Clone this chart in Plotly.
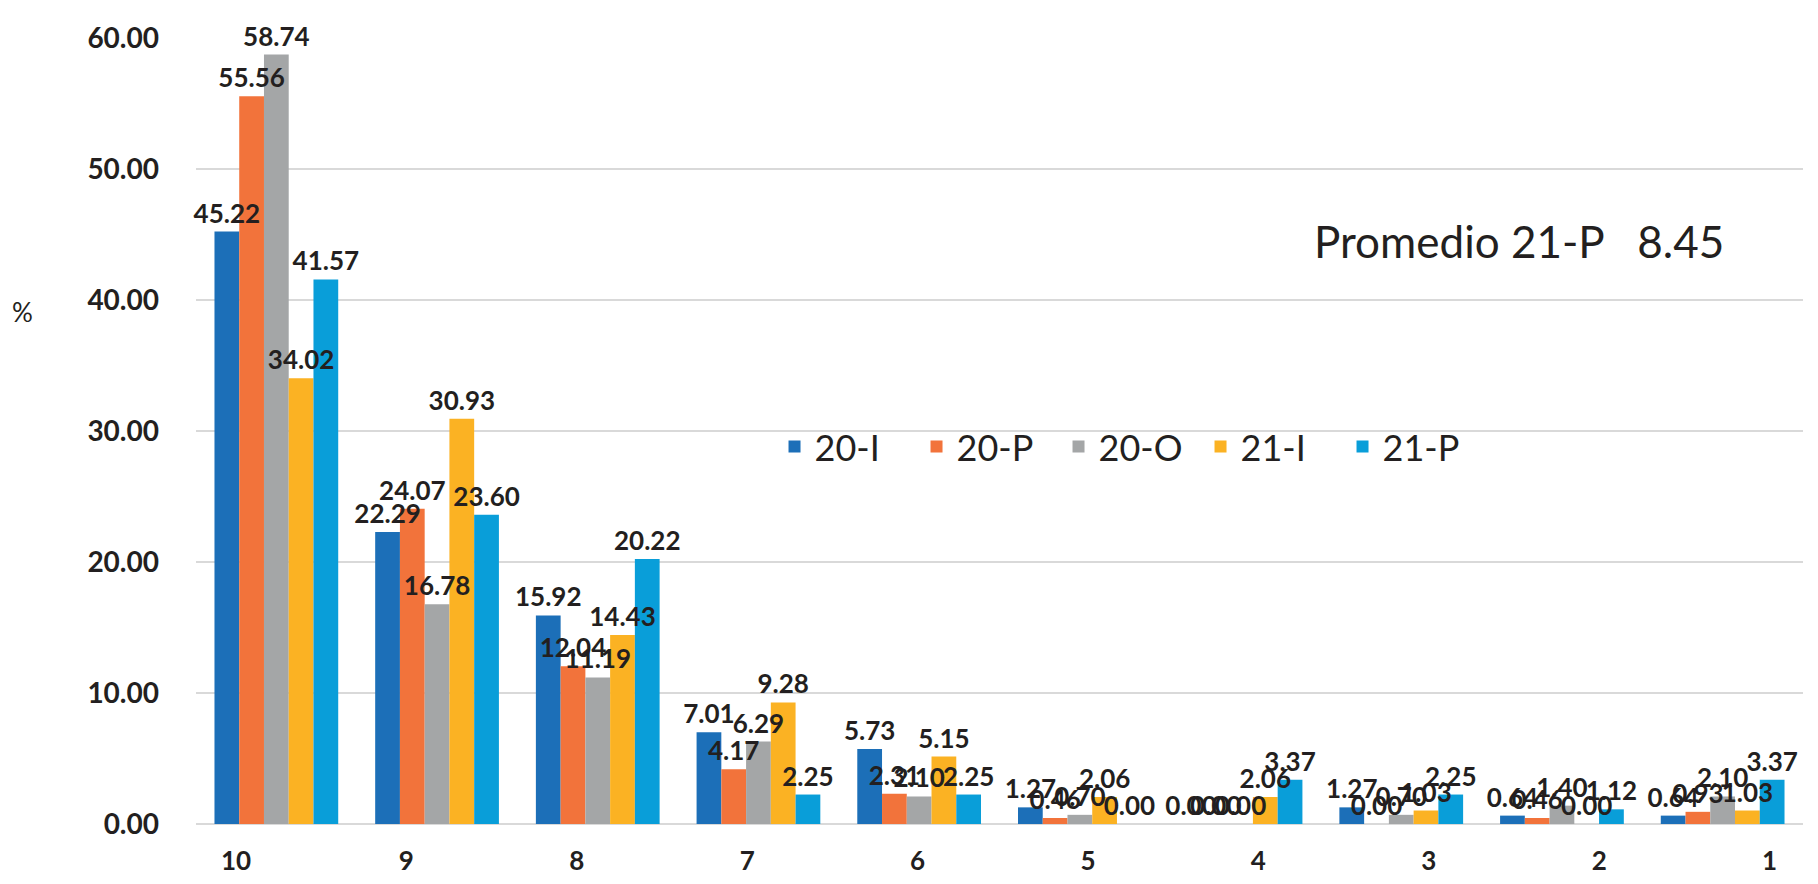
import plotly.graph_objects as go

categorias = ["10", "9", "8", "7", "6", "5", "4", "3", "2", "1"]

s20_I = [45.22, 22.29, 15.92, 7.01, 5.73, 1.27, 0.00, 1.27, 0.64, 0.64]
s20_P = [55.56, 24.07, 12.04, 4.17, 2.31, 0.46, 0.00, 0.00, 0.46, 0.93]
s20_O = [58.74, 16.78, 11.19, 6.29, 2.10, 0.70, 0.00, 0.70, 1.40, 2.10]
s21_I = [34.02, 30.93, 14.43, 9.28, 5.15, 2.06, 2.06, 1.03, 0.00, 1.03]
s21_P = [41.57, 23.60, 20.22, 2.25, 2.25, 0.00, 3.37, 2.25, 1.12, 3.37]

series = [
    ("20-I", s20_I, "#1c6fb8"),
    ("20-P", s20_P, "#f2733b"),
    ("20-O", s20_O, "#a4a6a7"),
    ("21-I", s21_I, "#fbb223"),
    ("21-P", s21_P, "#099ed9"),
]

promedio = "Promedio 21-P   8.45"

fig = go.Figure()
for nombre, vals, color in series:
    fig.add_trace(go.Bar(
        name=nombre, x=categorias, y=vals, offsetgroup=nombre,
        marker=dict(color=color, line=dict(width=0)),
    ))

# etiquetas en barras transparentes encima, para que ninguna barra las tape
for nombre, vals, color in series:
    fig.add_trace(go.Bar(
        x=categorias, y=vals, offsetgroup=nombre, showlegend=False,
        marker=dict(color="rgba(0,0,0,0)", line=dict(width=0)),
        text=[f"{v:.2f}" for v in vals],
        textposition="outside", constraintext="none",
        textfont=dict(family="Lato", size=26, color="#231f20", weight="bold"),
        cliponaxis=False, hoverinfo="skip",
    ))

# eje x con las etiquetas algo desplazadas (perspectiva 3D del original)
fig.add_trace(go.Scatter(
    x=categorias, y=[0] * len(categorias), xaxis="x2", mode="markers",
    marker=dict(opacity=0), showlegend=False, hoverinfo="skip",
))

paso = 170.4
ancho = 1607
r0 = -(228 - 188) / paso

fig.update_layout(
    width=1818, height=884,
    paper_bgcolor="white", plot_bgcolor="white",
    margin=dict(l=188, r=23, t=30, b=68),
    barmode="group", bargap=0.23, bargroupgap=0,
    legend=dict(
        orientation="h", x=0.36, y=0.48, xanchor="left", yanchor="middle",
        font=dict(family="Lato", size=36, color="#231f20"),
        bgcolor="rgba(0,0,0,0)", entrywidth=97,
    ),
    xaxis=dict(
        type="category", showgrid=False, zeroline=False, showline=False,
        ticks="", showticklabels=False,
    ),
    xaxis2=dict(
        type="category", overlaying="x", side="bottom",
        range=[r0, r0 + ancho / paso],
        showgrid=False, zeroline=False, showline=False, ticks="",
        ticklabelstandoff=19,
        tickfont=dict(family="Lato", size=26, color="#231f20", weight="bold"),
    ),
    yaxis=dict(
        range=[0, 60], dtick=10, tickformat=".2f",
        showgrid=True, gridcolor="#d9d9d9", gridwidth=2,
        zeroline=True, zerolinecolor="#d9d9d9", zerolinewidth=2,
        showline=False, ticks="", ticklabelstandoff=36,
        tickfont=dict(family="Lato", size=28, color="#231f20", weight="bold"),
    ),
    annotations=[
        dict(text="%", x=-0.108, y=0.651, xref="paper", yref="paper",
             xanchor="center", yanchor="middle", showarrow=False,
             font=dict(family="Lato", size=26, color="#231f20")),
        dict(text=promedio, x=0.823, y=0.742, xref="paper", yref="paper",
             xanchor="center", yanchor="middle", showarrow=False,
             font=dict(family="Lato", size=44, color="#231f20")),
    ],
)

fig.write_html("out.html")
